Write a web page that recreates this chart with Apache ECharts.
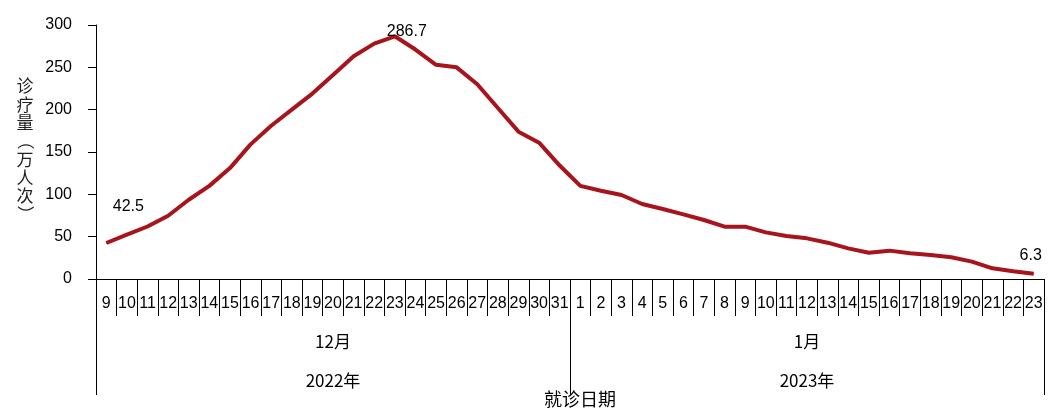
<!DOCTYPE html>
<html>
<head>
<meta charset="utf-8">
<script src="https://cdn.jsdelivr.net/npm/echarts@6/dist/echarts.min.js"></script>
<style>html,body{margin:0;padding:0;background:#fff;}#c{width:1059px;height:415px;}</style>
</head>
<body>
<div id="c"></div>
<script>
const days = ['9','10','11','12','13','14','15','16','17','18','19','20','21','22','23','24','25','26','27','28','29','30','31',
              '1','2','3','4','5','6','7','8','9','10','11','12','13','14','15','16','17','18','19','20','21','22','23'];
const months = ['12月','1月'];
const years = ['2022年','2023年'];
const visits = [42.5,52.3,62,74.7,93.6,110,131,159,181,200,219,241,263,278,286.7,271,253,250,230,202,174,161,134,
                110,104.3,99.2,88.6,82.7,76.4,69.7,61.8,61.8,55.1,50.8,48,42.9,36.2,31.1,33.5,30.3,28.3,25.6,20.5,12.6,9.1,6.3];
const labelled = {0:[22,-36], 14:[12,-5], 45:[-3,-18]};
const yTitle = ['诊','疗','量','（','万','人','次','）'];

const font = "'Liberation Sans','Noto Sans CJK SC',sans-serif";
const cjk = "'Noto Sans CJK SC',sans-serif";

const seriesData = visits.map((v,i)=>{
  if (labelled[i]) {
    return {value:v, label:{show:true, position:'inside', offset:labelled[i], formatter:String(v),
      color:'#000', fontFamily:font, fontSize:16}};
  }
  return v;
});

const titleGraphics = yTitle.map((ch,i)=>{
  const isParen = (ch==='（' || ch==='）');
  return {type:'text', x:25, y:86 + i*18.3, rotation: isParen ? -Math.PI/2 : 0,
    style:{text:ch, fill:'#222', font:'17px ' + cjk, textAlign:'center', textVerticalAlign:'middle'}};
});

const chart = echarts.init(document.getElementById('c'));
chart.setOption({
  animation:false,
  grid:{left:96,right:15,top:25,bottom:136},
  graphic: titleGraphics,
  xAxis:[
    {type:'category', data:days, boundaryGap:true, position:'bottom',
     name:'就诊日期', nameLocation:'middle', nameGap:111,
     nameTextStyle:{color:'#000', fontFamily:cjk, fontSize:18, lineHeight:18, padding:[0,0,0,20]},
     axisLine:{show:true, lineStyle:{color:'#000', width:1}},
     axisTick:{show:true, interval:0, length:37, alignWithLabel:false, lineStyle:{color:'#000', width:1}},
     axisLabel:{interval:0, margin:17, color:'#000', fontFamily:font, fontSize:16, lineHeight:16}},
    {type:'category', data:months, boundaryGap:true, position:'bottom',
     axisLine:{show:false},
     axisTick:{show:true, interval:0, length:116, lineStyle:{color:'#000', width:1}},
     axisLabel:{interval:0, margin:54, color:'#000', fontFamily:cjk, fontSize:17, lineHeight:17}},
    {type:'category', data:years, boundaryGap:true, position:'bottom',
     axisLine:{show:false}, axisTick:{show:false},
     axisLabel:{interval:0, margin:93, color:'#000', fontFamily:cjk, fontSize:17, lineHeight:17}}
  ],
  yAxis:{type:'value', min:0, max:300, interval:50,
    axisLine:{show:true, lineStyle:{color:'#000', width:1}},
    axisTick:{show:true, length:8, lineStyle:{color:'#000', width:1}},
    splitLine:{show:false},
    axisLabel:{margin:24, color:'#000', fontFamily:font, fontSize:16}},
  series:[{type:'line', data:seriesData, xAxisIndex:0,
    symbol:'circle', symbolSize:1, showSymbol:true,
    itemStyle:{color:'#A8141B'},
    lineStyle:{color:'#A8141B', width:4},
    smooth:false, z:5}]
});
</script>
</body>
</html>
